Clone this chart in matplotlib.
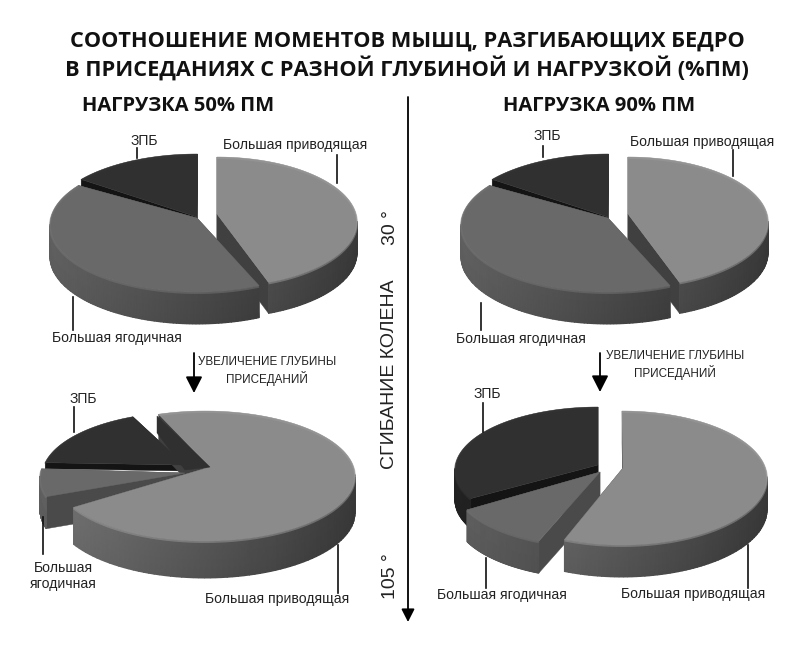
import numpy as np
import matplotlib
matplotlib.use("Agg")
import matplotlib.pyplot as plt

W, H = 803, 657

# Percentages, one list per pie.
slice_names = ["Большая приводящая", "Большая ягодичная", "ЗПБ"]
values_50_30 = [44.0, 42.0, 14.5]
values_90_30 = [44.0, 42.0, 14.5]
values_50_105 = [72.0, 7.0, 15.5]
values_90_105 = [56.5, 11.5, 32.5]

title_lines = ["СООТНОШЕНИЕ МОМЕНТОВ МЫШЦ, РАЗГИБАЮЩИХ БЕДРО",
               "В ПРИСЕДАНИЯХ С РАЗНОЙ ГЛУБИНОЙ И НАГРУЗКОЙ (%ПМ)"]
load_labels = ["НАГРУЗКА 50% ПМ", "НАГРУЗКА 90% ПМ"]
depth_note = "УВЕЛИЧЕНИЕ ГЛУБИНЫ\nПРИСЕДАНИЙ"

TOP_COLORS = ["#8b8b8b", "#696969", "#303030"]
CUT_COLORS = ["#404040", "#4a4a4a", "#141414"]
RIM_GRAY = [0.42, 0.36, 0.13]


def c2(y):
    """Picture rows run downwards, the axes run upwards."""
    return H - y


def shade(color, k):
    r, g, b = matplotlib.colors.to_rgb(color)
    return (min(r * k, 1), min(g * k, 1), min(b * k, 1))


def draw_wall(ax, xs, ys, kind, cx, rx, depth):
    X = np.vstack([xs, xs])
    Y = np.vstack([c2(ys), c2(ys + depth)])
    k = 1.12 - 0.55 * (xs - cx + rx) / (2 * rx)
    C = np.vstack([RIM_GRAY[kind] * k * 0.95, RIM_GRAY[kind] * k * 0.9])
    ax.pcolormesh(X, Y, C, shading="gouraud", cmap="gray", vmin=0, vmax=1,
                  zorder=2)


def draw_slice(ax, value, kind, center, radii, apex, start, depth):
    cx, cy = center
    rx, ry = radii
    angles = np.radians(np.linspace(start, start - value * 3.6, 120))
    xs = cx + rx * np.cos(angles)
    ys = cy - ry * np.sin(angles)

    # Cut faces first, they are the part furthest inside.
    for i in (0, -1):
        ax.fill([apex[0], xs[i], xs[i], apex[0]],
                [c2(apex[1]), c2(ys[i]), c2(ys[i] + depth), c2(apex[1] + depth)],
                color=CUT_COLORS[kind], lw=0.3, zorder=2)

    # Only the front half of the rim shows.
    front = np.sin(angles) < 0.03
    if front.sum() > 1:
        draw_wall(ax, xs[front], ys[front], kind, cx, rx, depth)

    ax.fill(np.r_[apex[0], xs], c2(np.r_[apex[1], ys]),
            color=TOP_COLORS[kind], lw=0.3, zorder=3)
    # Soft bevel along the top edge.
    ax.plot(xs, c2(ys + 1), color=shade(TOP_COLORS[kind], 1.12), lw=1.4,
            alpha=0.5, zorder=4, solid_capstyle="butt")


def leader(ax, x, y0, y1):
    ax.plot([x, x], [c2(y0), c2(y1)], color="#111111", lw=1.2, zorder=6)


def label(ax, x, y, s, size=10.1):
    ax.text(x, c2(y), s, ha="center", va="center", fontsize=size,
            family="Liberation Sans", color="#222222", zorder=7)


def down_arrow(ax, x, y0, y1, width=1.3, head=9):
    ax.annotate("", xy=(x, c2(y1)), xytext=(x, c2(y0)),
                arrowprops=dict(arrowstyle="-|>,head_width=0.28,head_length=0.55",
                                color="black", lw=width, shrinkA=0, shrinkB=0,
                                mutation_scale=head * 2),
                zorder=6)


def draw_top_pie(ax, values, dx):
    # ЗПБ at the back, the two big slices in front of it.
    draw_slice(ax, values[2], 2, (197 + dx, 220), (147, 66), (197 + dx, 217),
               142, 29)
    draw_slice(ax, values[0], 0, (217 + dx, 222), (140, 65), (217 + dx, 214),
               90, 31)
    draw_slice(ax, values[1], 1, (197 + dx, 225), (147, 67), (197 + dx, 218),
               -65, 32)


def main():
    fig = plt.figure(figsize=(W / 100, H / 100), dpi=100)
    ax = fig.add_axes([0, 0, 1, 1])
    ax.set_xlim(0, W)
    ax.set_ylim(0, H)
    ax.axis("off")

    for s, y in zip(title_lines, [41, 68]):
        ax.text(407, c2(y), s, ha="center", va="center", fontsize=15.7,
                family="Open Sans", fontweight="bold", color="#111111")
    ax.text(178, c2(106), load_labels[0], ha="center", va="center",
            fontsize=14.5, family="Open Sans", fontweight="bold", color="#111111")
    ax.text(599, c2(106), load_labels[1], ha="center", va="center",
            fontsize=14.5, family="Open Sans", fontweight="bold", color="#111111")

    # Flexion axis in the middle.
    down_arrow(ax, 408, 97, 622, width=1.3, head=7)
    ax.text(391, c2(228), "30 °", rotation=90, ha="center", va="center",
            fontsize=14, family="Liberation Sans", color="#222222")
    ax.text(390, c2(374), "СГИБАНИЕ КОЛЕНА", rotation=90, ha="center",
            va="center", fontsize=14, family="Liberation Sans", color="#222222")
    ax.text(391, c2(576), "105 °", rotation=90, ha="center", va="center",
            fontsize=14, family="Liberation Sans", color="#222222")

    draw_top_pie(ax, values_50_30, 0)
    draw_top_pie(ax, values_90_30, 411)

    # Bottom left pie.
    draw_slice(ax, values_50_105[2], 2, (188, 476), (146, 64), (185, 465),
               168, 6)
    draw_slice(ax, values_50_105[1], 1, (185, 478), (145, 64), (185, 473),
               197, 32)
    draw_slice(ax, values_50_105[0], 0, (205, 476), (150, 65), (210, 467),
               108, 37)
    ax.fill([157, 157, 210, 185], c2(np.array([433, 416, 467, 470])),
            color=TOP_COLORS[2], lw=0.3, zorder=5)

    # Bottom right pie.
    draw_slice(ax, values_90_105[2], 2, (598, 470), (143, 63), (598, 465),
               90 + values_90_105[2] * 3.6, 30)
    draw_slice(ax, values_90_105[1], 1, (600, 485), (145, 62), (600, 472),
               245, 32)
    draw_slice(ax, values_90_105[0], 0, (622, 478), (145, 67), (623, 468),
               90, 32)

    # Top left labels.
    label(ax, 144, 141, slice_names[2])
    leader(ax, 137, 148, 158)
    label(ax, 295, 145, slice_names[0])
    leader(ax, 337, 155, 183)
    label(ax, 117, 338, slice_names[1])
    leader(ax, 73, 297, 330)

    # Top right labels.
    label(ax, 547, 136, slice_names[2])
    leader(ax, 543, 146, 157)
    label(ax, 702, 142, slice_names[0])
    leader(ax, 733, 150, 176)
    label(ax, 521, 339, slice_names[1])
    leader(ax, 481, 303, 330)

    # Bottom left labels.
    label(ax, 83, 399, slice_names[2])
    leader(ax, 74, 407, 432)
    label(ax, 63, 576, "Большая\nягодичная")
    leader(ax, 43, 517, 554)
    label(ax, 277, 599, slice_names[0])
    leader(ax, 338, 545, 593)

    # Bottom right labels.
    label(ax, 487, 394, slice_names[2])
    leader(ax, 483, 403, 432)
    label(ax, 502, 595, slice_names[1])
    leader(ax, 486, 558, 588)
    label(ax, 693, 594, slice_names[0])
    leader(ax, 748, 545, 588)

    # Depth arrows and their notes.
    down_arrow(ax, 194, 353, 393)
    down_arrow(ax, 600, 353, 392)
    label(ax, 267, 371, depth_note, size=8.4)
    label(ax, 675, 365, depth_note, size=8.4)

    fig.savefig("out.png", dpi=100, facecolor="white")


if "__main__" == __name__:
    main()
